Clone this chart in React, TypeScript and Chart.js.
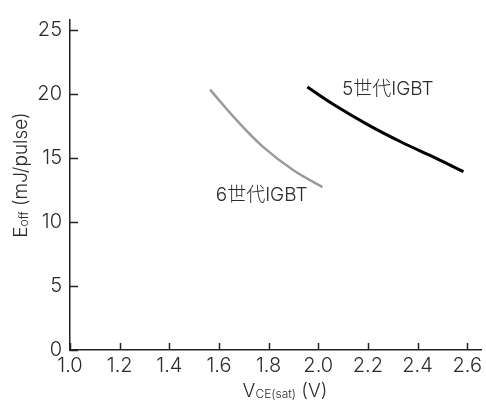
import React, { useEffect, useRef } from 'react';
import { Chart, registerables } from 'chart.js';

Chart.register(...registerables);

// ---- data ----
const seriesNames = ['6世代IGBT', '5世代IGBT'];
const gen6X = [1.564, 1.672, 1.78, 1.9, 2.017];
const gen6Y = [20.36, 17.95, 15.84, 14.05, 12.74];
const gen5X = [1.956, 2.065, 2.199, 2.332, 2.465, 2.585];
const gen5Y = [20.56, 19.15, 17.62, 16.28, 15.08, 13.94];
const xTicks = [1.0, 1.2, 1.4, 1.6, 1.8, 2.0, 2.2, 2.4, 2.6];
const xTickLabels = ['1.0', '1.2', '1.4', '1.6', '1.8', '2.0', '2.2', '2.4', '2.6'];
const yTicks = [0, 5, 10, 15, 20, 25];
const yTickLabels = ['0', '5', '10', '15', '20', '25'];

const FONT = 'Inter, "Noto Sans CJK JP", sans-serif';
const W = '300';
const TEXT = '#2b2b2b';
const AXIS = '#222222';

type Part = [string, number, number];

function drawParts(ctx: CanvasRenderingContext2D, parts: Part[], cx: number, baseline: number) {
  let total = 0;
  parts.forEach(([t, s]) => {
    ctx.font = `${W} ${s}px ${FONT}`;
    total += ctx.measureText(t).width;
  });
  let x = cx - total / 2;
  ctx.textAlign = 'left';
  ctx.textBaseline = 'alphabetic';
  parts.forEach(([t, s, off]) => {
    ctx.font = `${W} ${s}px ${FONT}`;
    ctx.fillText(t, x, baseline + off);
    x += ctx.measureText(t).width;
  });
}

const decor = {
  id: 'decor',
  afterDraw(chart: any) {
    const { ctx, chartArea, scales } = chart;
    const x = scales.x;
    const y = scales.y;
    ctx.save();
    ctx.strokeStyle = AXIS;
    ctx.lineWidth = 1.5;
    xTicks.forEach((v) => {
      const px = Math.round(x.getPixelForValue(v)) + 0.5;
      ctx.beginPath();
      ctx.moveTo(px, chartArea.bottom);
      ctx.lineTo(px, chartArea.bottom - 7);
      ctx.stroke();
    });
    yTicks.forEach((v) => {
      const py = Math.round(y.getPixelForValue(v)) + 0.5;
      ctx.beginPath();
      ctx.moveTo(chartArea.left, py);
      ctx.lineTo(chartArea.left + 8, py);
      ctx.stroke();
    });

    // series labels
    ctx.fillStyle = TEXT;
    ctx.font = `${W} 19px ${FONT}`;
    ctx.textAlign = 'center';
    ctx.textBaseline = 'middle';
    ctx.fillText(seriesNames[1], x.getPixelForValue(2.28), y.getPixelForValue(20.36));
    ctx.fillText(seriesNames[0], x.getPixelForValue(1.772), y.getPixelForValue(12.07));

    // x title
    drawParts(ctx, [['V', 19, 0], ['CE(sat)', 12, 1], [' (V)', 19, 0]], 285, 397);

    // y title
    ctx.translate(27, 175);
    ctx.rotate(-Math.PI / 2);
    drawParts(ctx, [['E', 19, 0], ['off', 12, 1], [' (mJ/pulse)', 19, 0]], 0, 0);
    ctx.restore();
  },
};

export default function App() {
  const ref = useRef<HTMLCanvasElement | null>(null);
  useEffect(() => {
    document.body.style.margin = '0';
    const canvas = ref.current;
    if (!canvas) return;
    const chart = new Chart(canvas, {
      type: 'line',
      data: {
        datasets: [
          {
            label: seriesNames[0],
            data: gen6X.map((v, i) => ({ x: v, y: gen6Y[i] })),
            borderColor: '#9a9a9a',
            borderWidth: 2.5,
            pointRadius: 0,
            tension: 0.4,
            fill: false,
          },
          {
            label: seriesNames[1],
            data: gen5X.map((v, i) => ({ x: v, y: gen5Y[i] })),
            borderColor: '#000000',
            borderWidth: 3,
            pointRadius: 0,
            tension: 0.4,
            fill: false,
          },
        ],
      },
      options: {
        animation: false,
        responsive: false,
        layout: { padding: { top: 8, right: 2, left: 0, bottom: 0 } },
        plugins: { legend: { display: false }, tooltip: { enabled: false } },
        scales: {
          x: {
            type: 'linear',
            min: 1.0,
            max: 2.656,
            grid: { display: false, drawTicks: false },
            border: { display: true, color: AXIS, width: 1.5 },
            ticks: {
              padding: 4,
              color: TEXT,
              font: { family: FONT, size: 20, weight: W },
              maxRotation: 0,
              autoSkip: false,
              callback: (_v: any, i: number) => xTickLabels[i],
            },
            afterBuildTicks: (s: any) => {
              s.ticks = xTicks.map((v) => ({ value: v }));
            },
            afterFit: (s: any) => {
              s.height = 51;
            },
          },
          y: {
            type: 'linear',
            min: 0,
            max: 25.8,
            grid: { display: false, drawTicks: false },
            border: { display: true, color: AXIS, width: 1.5 },
            ticks: {
              padding: 8,
              color: TEXT,
              font: { family: FONT, size: 20, weight: W },
              autoSkip: false,
              callback: (_v: any, i: number) => yTickLabels[i],
            },
            afterBuildTicks: (s: any) => {
              s.ticks = yTicks.map((v) => ({ value: v }));
            },
            afterFit: (s: any) => {
              s.width = 70;
            },
          },
        },
      },
      plugins: [decor],
    });
    return () => chart.destroy();
  }, []);
  return (
    <div style={{ width: 486, height: 401 }}>
      <canvas ref={ref} width={486} height={401} style={{ display: 'block' }} />
    </div>
  );
}
